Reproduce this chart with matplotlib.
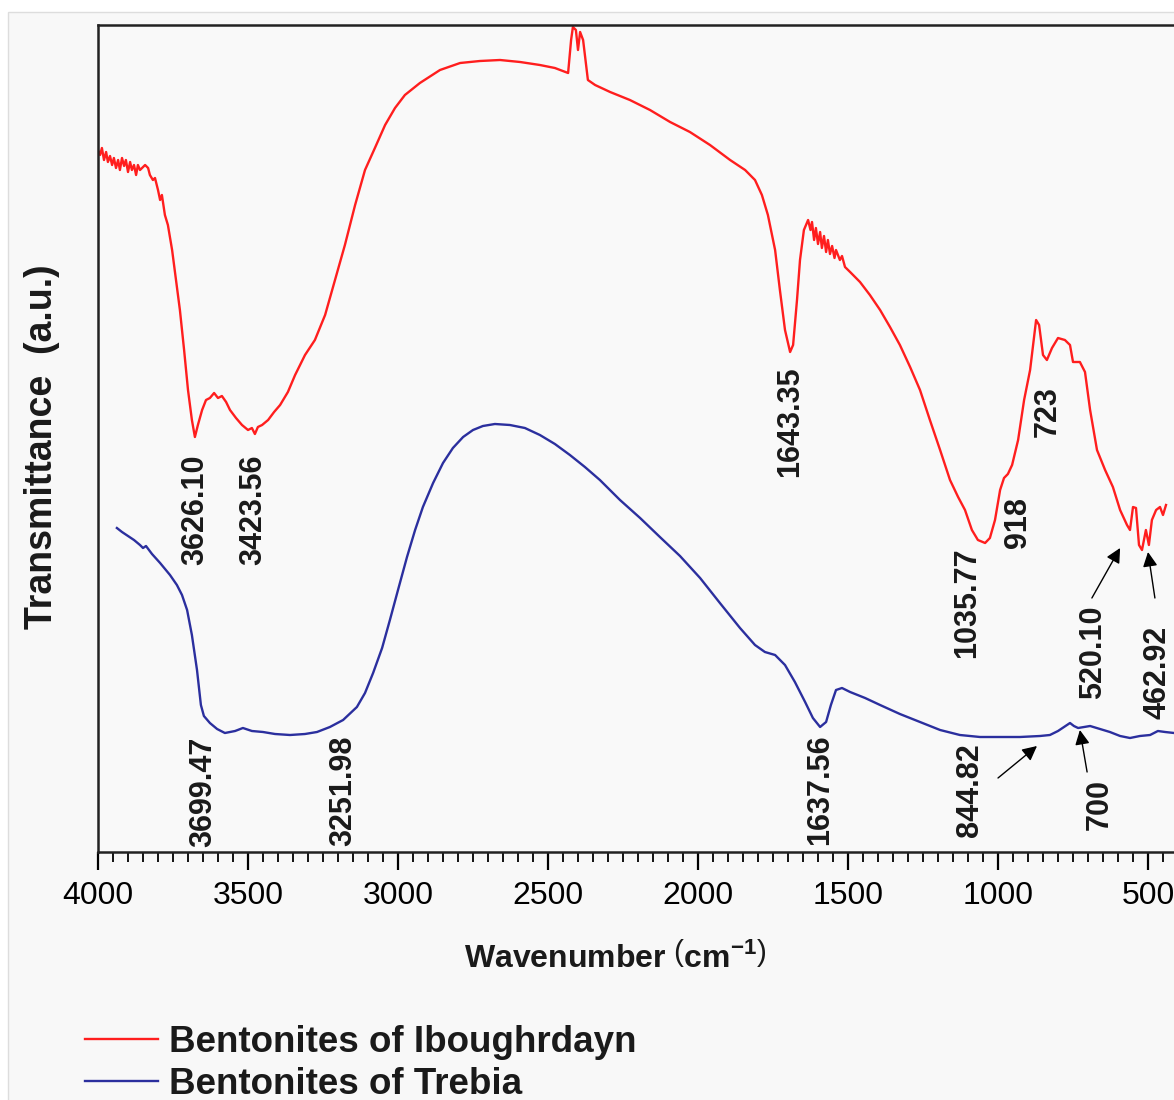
import matplotlib
matplotlib.use('Agg')
import matplotlib.pyplot as plt
from matplotlib.patches import Rectangle
from matplotlib.ticker import MultipleLocator

plt.rcParams['font.family'] = ['Liberation Sans', 'DejaVu Sans']
plt.rcParams['mathtext.fontset'] = 'custom'
plt.rcParams['mathtext.rm'] = 'Liberation Sans'
plt.rcParams['mathtext.bf'] = 'Liberation Sans:bold'

# Bentonites of Iboughrdayn (red) - wavenumber (cm-1) and transmittance (a.u.)
red_wn = [4000, 3993, 3987, 3980, 3973, 3967, 3960, 3953, 3947, 3940, 3933, 3927, 3920, 3913,
          3907, 3900, 3893, 3887, 3880, 3873, 3867, 3860, 3853, 3843, 3833, 3827, 3817, 3810,
          3800, 3793, 3787, 3777, 3767, 3753, 3740, 3727, 3713, 3700, 3687, 3677, 3667, 3653,
          3640, 3627, 3613, 3600, 3587, 3573, 3560, 3540, 3520, 3500, 3487, 3477, 3467, 3453,
          3433, 3413, 3393, 3367, 3343, 3310, 3277, 3243, 3210, 3177, 3143, 3110, 3077, 3043,
          3010, 2977, 2927, 2860, 2793, 2727, 2660, 2593, 2527, 2477, 2433, 2423, 2417, 2407,
          2400, 2393, 2383, 2367, 2343, 2293, 2227, 2160, 2093, 2027, 1960, 1893, 1843, 1810,
          1787, 1767, 1743, 1727, 1710, 1693, 1683, 1670, 1660, 1647, 1633, 1625, 1620, 1613,
          1607, 1600, 1593, 1587, 1580, 1573, 1567, 1560, 1553, 1545, 1540, 1527, 1520, 1510,
          1493, 1460, 1427, 1393, 1360, 1327, 1293, 1260, 1227, 1193, 1160, 1133, 1110, 1087,
          1067, 1043, 1027, 1010, 993, 980, 967, 953, 933, 913, 893, 883, 873, 863, 850, 837,
          820, 800, 777, 760, 750, 727, 710, 693, 670, 643, 617, 593, 570, 560, 550, 540, 530,
          520, 507, 497, 487, 473, 460, 450, 440]
red_t = [702, 697, 704, 692, 700, 690, 696, 687, 694, 684, 692, 682, 694, 686,
         692, 680, 690, 682, 687, 677, 687, 682, 684, 687, 684, 677, 672, 674,
         662, 652, 657, 637, 627, 602, 572, 542, 502, 462, 432, 415, 427, 442,
         452, 454, 459, 454, 456, 450, 442, 434, 427, 422, 424, 418, 425, 427,
         432, 440, 447, 460, 477, 497, 512, 537, 572, 607, 647, 682, 704, 727,
         744, 757, 769, 782, 789, 791, 792, 790, 787, 784, 779, 812, 825, 822,
         802, 820, 812, 772, 767, 760, 752, 742, 730, 720, 707, 692, 682, 672,
         657, 637, 602, 562, 522, 500, 507, 552, 592, 622, 632, 622, 630, 612,
         624, 608, 620, 604, 616, 600, 612, 598, 606, 594, 602, 592, 596, 585,
         580, 570, 557, 542, 525, 507, 485, 462, 432, 402, 372, 355, 342, 322,
         312, 309, 314, 332, 362, 374, 378, 387, 412, 452, 482, 507, 532, 527, 497, 492,
         504, 514, 512, 507, 490, 490, 480, 442, 402, 382, 365, 342, 327, 322, 345, 344, 307,
         302, 322, 307, 332, 342, 345, 337, 347]

# Bentonites of Trebia (blue)
blue_wn = [3937, 3920, 3900, 3880, 3860, 3850, 3840, 3820, 3793, 3760, 3737, 3720, 3703, 3687,
           3670, 3657, 3647, 3627, 3603, 3577, 3543, 3517, 3487, 3450, 3410, 3360, 3310, 3270,
           3227, 3183, 3137, 3110, 3083, 3053, 3027, 3000, 2970, 2943, 2917, 2883, 2850, 2817,
           2783, 2750, 2717, 2677, 2627, 2577, 2527, 2477, 2427, 2377, 2327, 2260, 2193, 2127,
           2060, 1993, 1927, 1860, 1810, 1777, 1743, 1710, 1677, 1643, 1617, 1593, 1573, 1557,
           1540, 1520, 1493, 1443, 1393, 1327, 1260, 1193, 1127, 1060, 993, 927, 860, 827, 800,
           780, 760, 747, 733, 713, 693, 660, 627, 593, 560, 527, 493, 467, 443, 413, 393]
blue_t = [324, 320, 316, 312, 307, 304, 306, 298, 289, 277, 267, 257, 242, 217,
          182, 147, 136, 129, 123, 119, 121, 124, 121, 120, 118, 117, 118, 120,
          125, 132, 145, 159, 179, 204, 232, 262, 295, 322, 345, 369, 389, 404,
          415, 422, 426, 428, 427, 424, 417, 408, 397, 385, 372, 352, 334, 315,
          296, 274, 249, 224, 207, 200, 197, 187, 170, 150, 134, 125, 130, 147,
          162, 164, 160, 154, 147, 138, 130, 122, 117, 115, 115, 115, 116, 117, 121,
          125, 129, 126, 124, 125, 126, 123, 120, 116, 114, 116, 117, 121, 120, 119, 118]

series_names = ['Bentonites of Iboughrdayn', 'Bentonites of Trebia']

peak_labels = ['3626.10', '3423.56', '1643.35', '1035.77', '918', '723', '520.10', '462.92',
               '3699.47', '3251.98', '1637.56', '844.82', '700']
label_pos = [(3677, 342), (3483, 342), (1693, 430), (1103, 249), (933, 330), (833, 440),
             (683, 200), (470, 180), (3650, 60), (3183, 61), (1593, 62), (1093, 62), (660, 47)]

# arrows: label -> (tail, head)
arrow_labels = ['520.10', '462.92', '844.82', '700']
arrow_pos = [((687, 254), (593, 304)), ((477, 254), (500, 300)),
             ((1000, 74), (870, 106)), ((703, 80), (727, 122))]


def main():
    fig = plt.figure(figsize=(11.74, 11.0), dpi=100, facecolor='white')
    fig.patches.append(Rectangle((8 / 1174, -0.01), 1.0, 1 - 12 / 1100 + 0.01,
                                 transform=fig.transFigure, facecolor='#f8f8f8',
                                 edgecolor='#dddddd', lw=1, zorder=-10))

    ax = fig.add_axes([98 / 1174, 248 / 1100, 1080 / 1174, 827 / 1100])
    ax.set_facecolor('#f9f9f9')

    ax.plot(red_wn, red_t, color='#ff1e1e', lw=1.7, label=series_names[0])
    ax.plot(blue_wn, blue_t, color='#2b2f9e', lw=1.7, label=series_names[1])

    ax.set_xlim(4000, 400)
    ax.set_ylim(0, 827)
    ax.xaxis.set_major_locator(MultipleLocator(500))
    ax.xaxis.set_minor_locator(MultipleLocator(50))
    ax.tick_params(axis='x', which='major', direction='out', length=13, width=1.6,
                   labelsize=23, pad=8)
    ax.tick_params(axis='x', which='minor', direction='out', length=7, width=1.3)
    ax.set_yticks([])
    for side in ['left', 'bottom', 'top', 'right']:
        ax.spines[side].set_linewidth(1.8)
        ax.spines[side].set_color('#222222')

    for text, (x, y) in zip(peak_labels, label_pos):
        ax.text(x, y, text, rotation=90, ha='center', va='center', fontsize=22,
                fontweight='bold', color='#1a1a1a')

    for text, (tail, head) in zip(arrow_labels, arrow_pos):
        ax.annotate('', xy=head, xytext=tail,
                    arrowprops=dict(arrowstyle='-|>', color='black', lw=1.0,
                                    mutation_scale=22, shrinkA=0, shrinkB=0))

    fig.text(615 / 1174, 1 - 958 / 1100, r'Wavenumber $\left(\mathbf{cm}^{\mathbf{-1}}\right)$',
             ha='center', va='center', fontsize=23, fontweight='bold', color='#1a1a1a')
    fig.text(42 / 1174, 1 - 447 / 1100, 'Transmittance  (a.u.)', rotation=90,
             ha='center', va='center', fontsize=27, fontweight='bold', color='#1a1a1a')

    leg = fig.legend(loc='upper left', bbox_to_anchor=(70 / 1174, 1 - 1010 / 1100),
                     frameon=False, fontsize=26.5, handlelength=2.0, handletextpad=0.3,
                     labelspacing=0.2, borderaxespad=0)
    for t in leg.get_texts():
        t.set_fontweight('bold')
        t.set_color('#1a1a1a')

    fig.savefig('out.png', dpi=100, facecolor=fig.get_facecolor())


if __name__ == '__main__':
    main()
